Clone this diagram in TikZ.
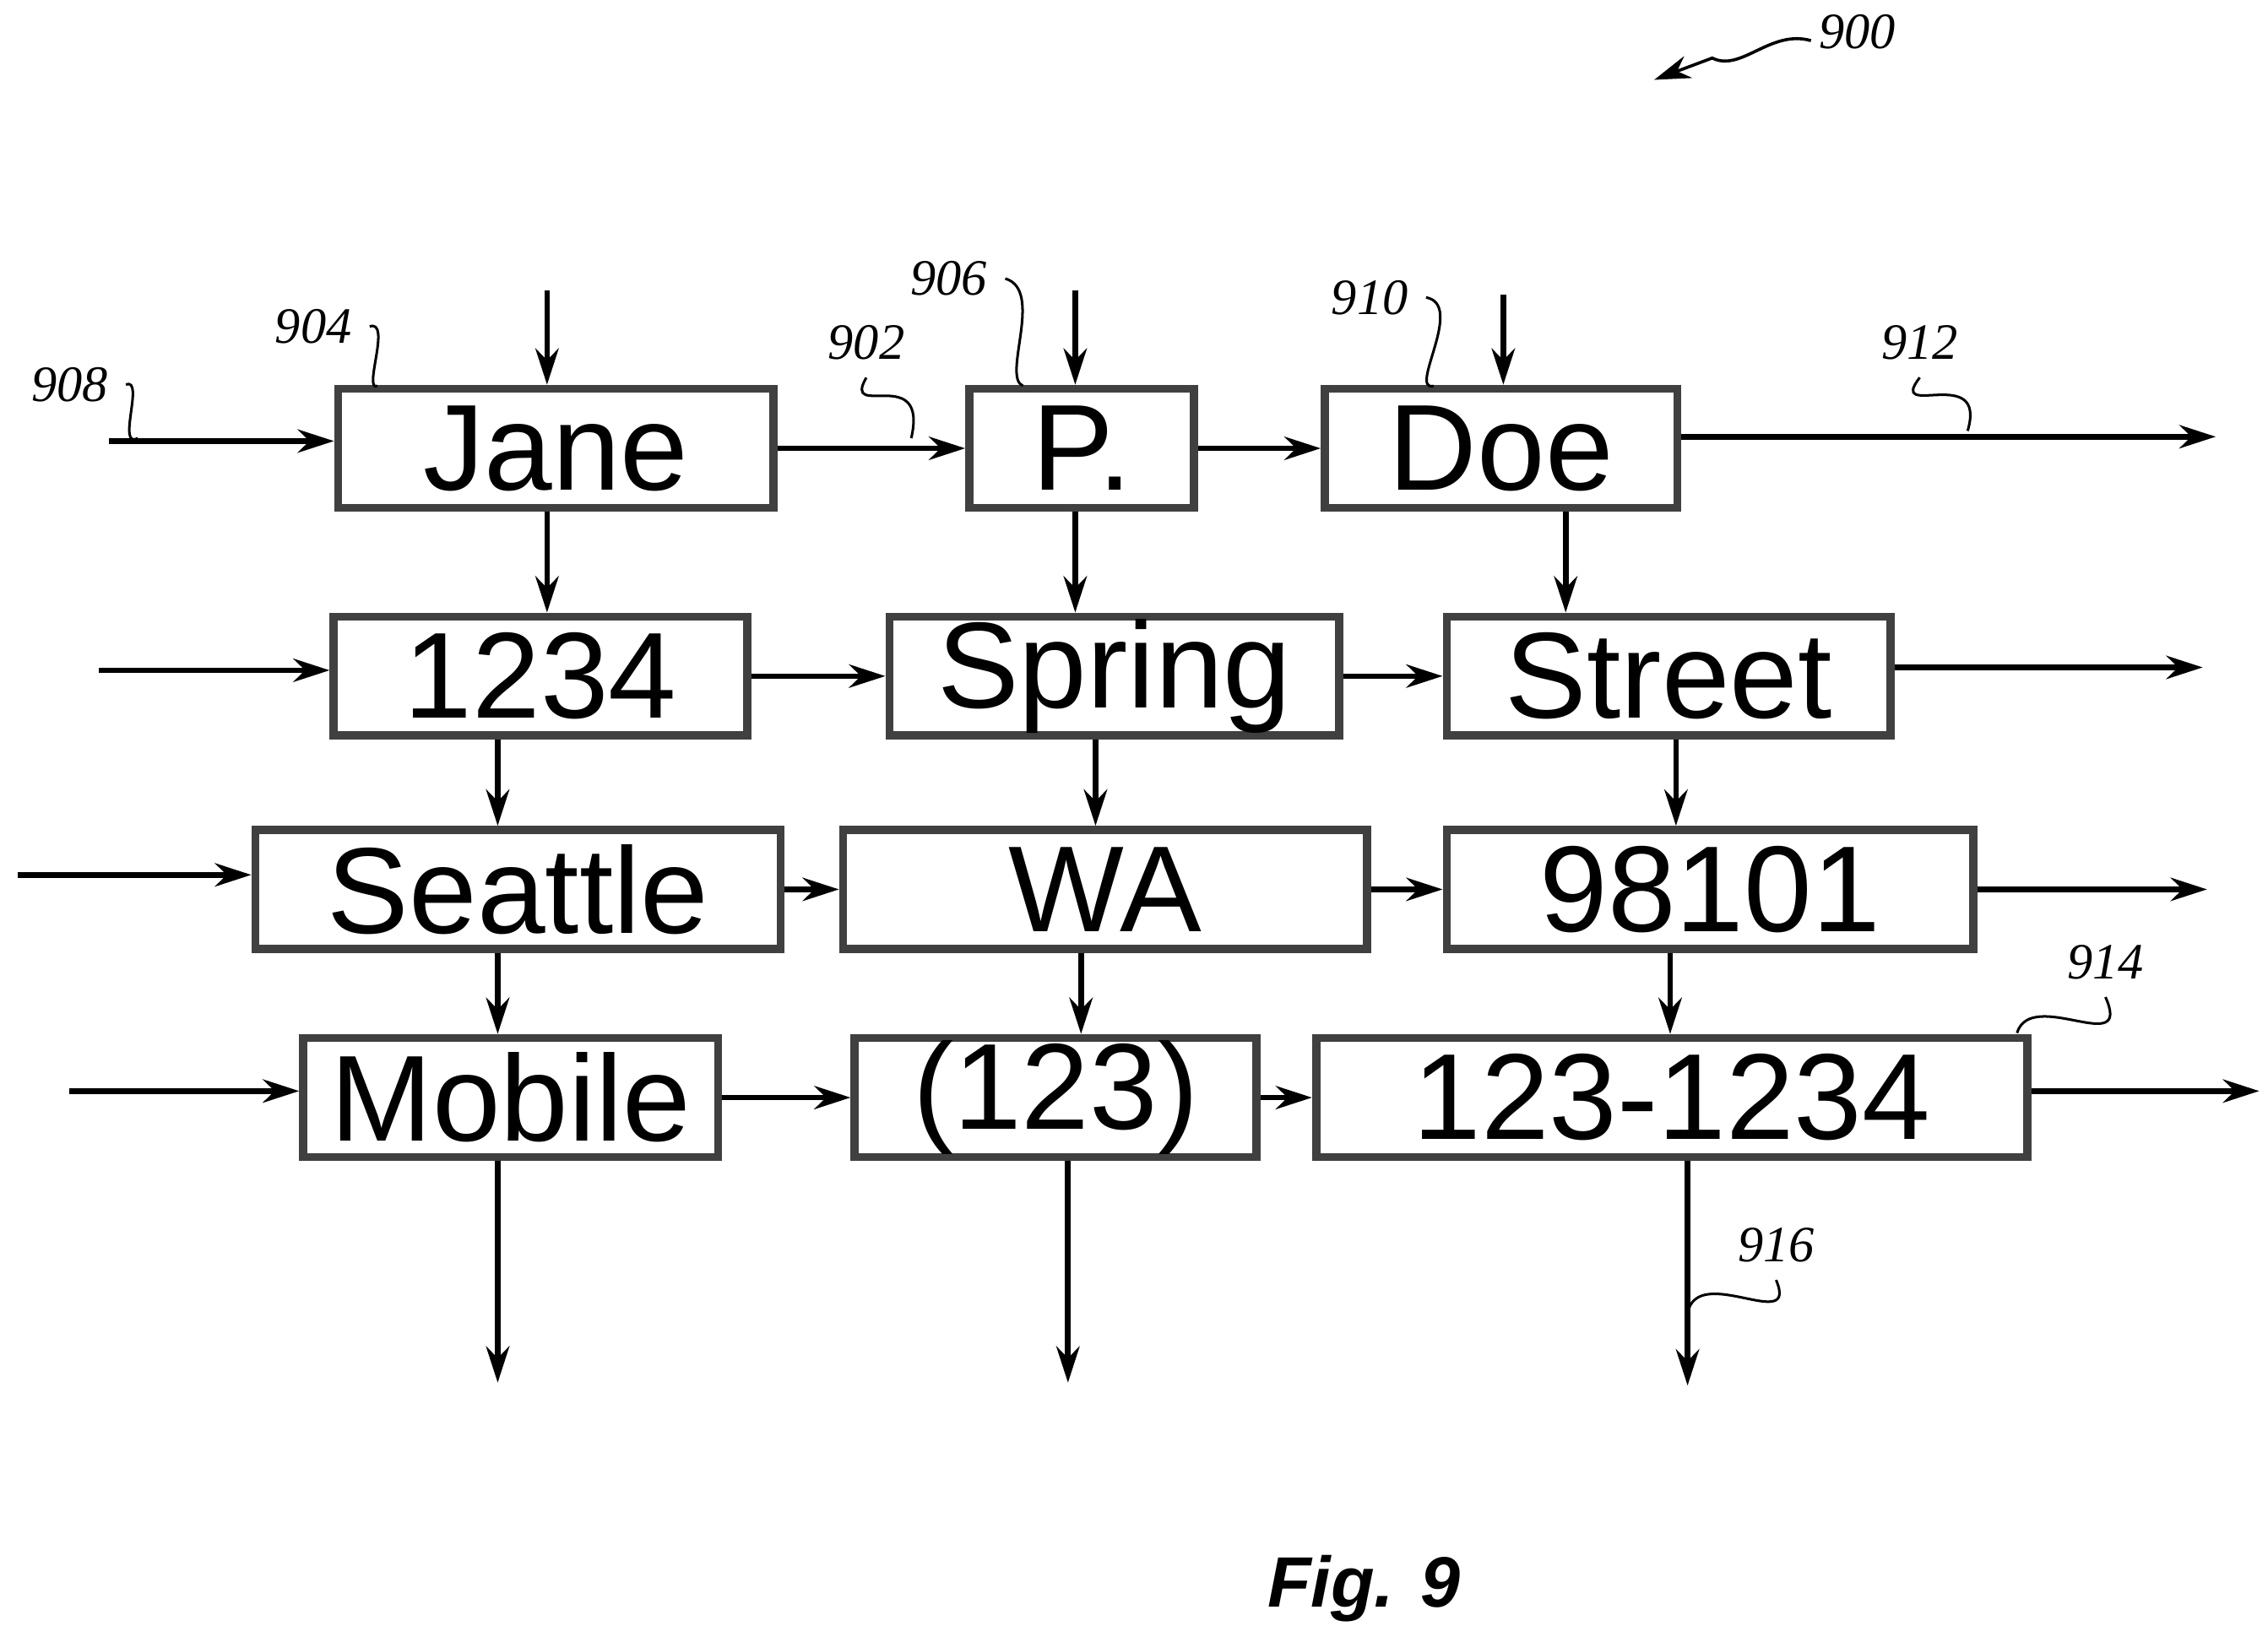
\documentclass[tikz,border=0pt]{standalone}
\usepackage{fontspec}
\setmainfont{Liberation Sans}
\newfontfamily\numfont{Liberation Serif}
\usetikzlibrary{positioning}
\usetikzlibrary{arrows.meta}

\tikzset{
  field/.style={rectangle, draw=black!75, line width=1.6pt, fill=white, inner sep=0pt, minimum height=0.82cm, font=\fontsize{24}{24}\selectfont},
  arr/.style={-{Stealth[length=0.25cm,width=0.16cm]}, line width=1.1pt},
  ref/.style={font=\numfont\itshape\fontsize{10}{10}\selectfont},
  wig/.style={line width=0.5pt}
}

\begin{document}
\begin{tikzpicture}
\useasboundingbox (0,0) rectangle (15.63,-11.28);

% first row
\node at (3.83,-3.09)[field, minimum width=3.00cm] (jane) {Jane};
\node at (7.455,-3.09)[field, minimum width=1.55cm] (p) {P.};
\node at (10.345,-3.09)[field, minimum width=2.43cm] (doe) {Doe};

% second row
\node at (3.725,-4.66)[field, minimum width=2.85cm] (n1234) {1234};
\node at (7.68,-4.66)[field, minimum width=3.10cm] (spring) {Spring};
\node at (11.50,-4.66)[field, minimum width=3.06cm] (street) {Street};

% third row
\node at (3.57,-6.13)[field, minimum width=3.62cm] (seattle) {Seattle};
\node at (7.615,-6.13)[field, minimum width=3.61cm] (wa) {WA};
\node at (11.785,-6.13)[field, minimum width=3.63cm] (zip) {98101};

% fourth row
\node at (3.52,-7.565)[field, minimum width=2.86cm] (mobile) {Mobile};
\node at (7.275,-7.565)[field, minimum width=2.77cm] (area) {(123)};
\node at (11.52,-7.565)[field, minimum width=4.90cm] (number) {123-1234};

% free ends
\coordinate (in1) at (0.75,-3.04);
\coordinate (in2) at (0.68,-4.62);
\coordinate (in3) at (0.12,-6.03);
\coordinate (in4) at (0.48,-7.52);
\coordinate (out1) at (15.27,-3.01);
\coordinate (out2) at (15.18,-4.60);
\coordinate (out3) at (15.21,-6.13);
\coordinate (out4) at (15.57,-7.52);
\coordinate (top1) at (3.77,-2.00);
\coordinate (top2) at (7.41,-2.00);
\coordinate (top3) at (10.36,-2.03);
\coordinate (bot1) at (3.43,-9.53);
\coordinate (bot2) at (7.36,-9.53);
\coordinate (bot3) at (11.63,-9.55);

% column positions of the down arrows
\coordinate (xa) at (3.77,0);
\coordinate (xb) at (7.41,0);
\coordinate (xc) at (10.79,0);
\coordinate (xd) at (3.43,0);
\coordinate (xe) at (7.55,0);
\coordinate (xf) at (11.55,0);
\coordinate (xg) at (7.45,0);
\coordinate (xh) at (11.51,0);

% row arrows
\draw[arr] (in1) -- (in1 -| jane.west);
\draw[arr] (jane) -- (p);
\draw[arr] (p) -- (doe);
\draw[arr] (doe.east |- out1) -- (out1);
\draw[arr] (in2) -- (in2 -| n1234.west);
\draw[arr] (n1234) -- (spring);
\draw[arr] (spring) -- (street);
\draw[arr] (street.east |- out2) -- (out2);
\draw[arr] (in3) -- (in3 -| seattle.west);
\draw[arr] (seattle) -- (wa);
\draw[arr] (wa) -- (zip);
\draw[arr] (zip) -- (out3);
\draw[arr] (in4) -- (in4 -| mobile.west);
\draw[arr] (mobile) -- (area);
\draw[arr] (area) -- (number);
\draw[arr] (number.east |- out4) -- (out4);

% column arrows
\draw[arr] (top1) -- (top1 |- jane.north);
\draw[arr] (top2) -- (top2 |- p.north);
\draw[arr] (top3) -- (top3 |- doe.north);
\draw[arr] (jane.south -| xa) -- (n1234.north -| xa);
\draw[arr] (p.south -| xb) -- (spring.north -| xb);
\draw[arr] (doe.south -| xc) -- (street.north -| xc);
\draw[arr] (n1234.south -| xd) -- (seattle.north -| xd);
\draw[arr] (spring.south -| xe) -- (wa.north -| xe);
\draw[arr] (street.south -| xf) -- (zip.north -| xf);
\draw[arr] (seattle.south -| xd) -- (mobile.north -| xd);
\draw[arr] (wa.south -| xg) -- (area.north -| xg);
\draw[arr] (zip.south -| xh) -- (number.north -| xh);
\draw[arr] (mobile.south -| bot1) -- (bot1);
\draw[arr] (area.south -| bot2) -- (bot2);
\draw[arr] (number.south -| bot3) -- (bot3);

% reference numerals
\node at (12.80,-0.22)[ref] (r900) {900};
\coordinate (a900) at (11.40,-0.55);
\draw[arr, line width=0.6pt] (12.48,-0.28) .. controls (12.2,-0.2) and (12.0,-0.5) .. (11.8,-0.4) -- (a900);
\node at (2.16,-2.25)[ref] (r904) {904};
\draw[wig] (r904.east) .. controls (2.7,-2.2) and (2.5,-2.7) .. (2.60,-2.66);
\node at (0.48,-2.65)[ref] (r908) {908};
\draw[wig] (r908.east) .. controls (1.0,-2.6) and (0.8,-3.1) .. (0.95,-3.02);
\node at (5.97,-2.36)[ref] (r902) {902};
\draw[wig] (r902.south) .. controls (5.8,-2.9) and (6.4,-2.5) .. (6.28,-3.02);
\node at (6.54,-1.92)[ref] (r906) {906};
\draw[wig] (r906.east) .. controls (7.2,-2.0) and (6.9,-2.6) .. (7.05,-2.66);
\node at (9.44,-2.05)[ref] (r910) {910};
\draw[wig] (r910.east) .. controls (10.1,-2.1) and (9.7,-2.7) .. (9.88,-2.66);
\node at (13.23,-2.36)[ref] (r912) {912};
\draw[wig] (r912.south) .. controls (13.0,-2.9) and (13.7,-2.5) .. (13.56,-2.97);
\node at (14.51,-6.63)[ref] (r914) {914};
\draw[wig] (r914.south) .. controls (14.7,-7.3) and (14.0,-6.8) .. (13.90,-7.12);
\node at (12.24,-8.58)[ref] (r916) {916};
\draw[wig] (r916.south) .. controls (12.4,-9.2) and (11.7,-8.7) .. (11.63,-9.05);

\node at (9.40,-10.95)[font=\bfseries\itshape\fontsize{14}{14}\selectfont] (fig) {Fig. 9};

\end{tikzpicture}
\end{document}
